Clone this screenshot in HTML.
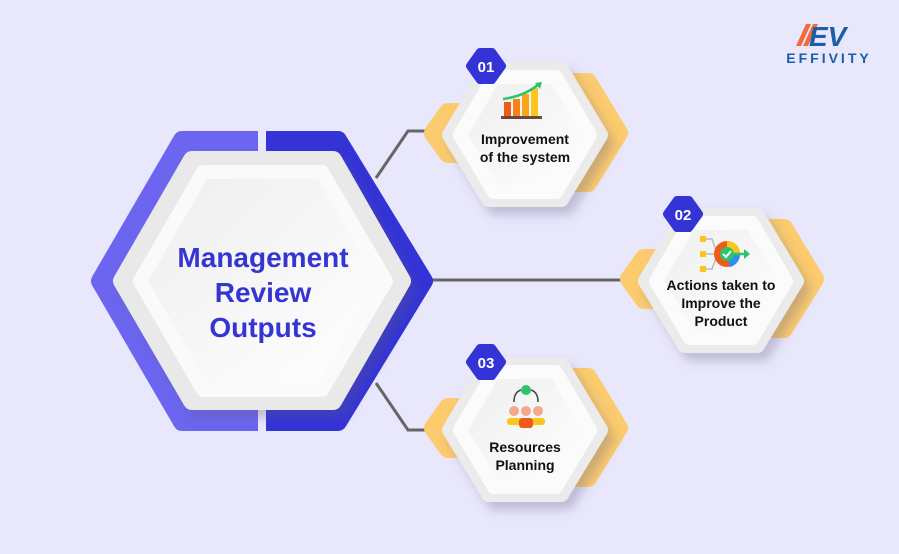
<!DOCTYPE html>
<html><head><meta charset="utf-8"><style>
html,body{margin:0;padding:0;background:#e9e7fb;}
svg{display:block;font-family:"Liberation Sans",sans-serif;}
</style></head><body>
<svg width="899" height="554" viewBox="0 0 899 554" xmlns="http://www.w3.org/2000/svg">
<defs>
<clipPath id="cl"><rect x="0" y="0" width="258" height="554"/></clipPath>
<clipPath id="cr"><rect x="266" y="0" width="300" height="554"/></clipPath>
<linearGradient id="wg" x1="0" y1="0" x2="1" y2="1"><stop offset="0" stop-color="#eeeeee"/><stop offset="1" stop-color="#ffffff"/></linearGradient>
<filter id="sh" x="-20%" y="-20%" width="150%" height="150%"><feDropShadow dx="6" dy="8" stdDeviation="5" flood-color="#5a5a80" flood-opacity="0.3"/></filter>
</defs>
<rect width="899" height="554" fill="#e9e7fb"/>

<g fill="none" stroke="#666" stroke-width="3">
<polyline points="376,178 408,131 440,131"/>
<line x1="430" y1="280" x2="632" y2="280"/>
<polyline points="376,383 408,430 440,430"/>
</g>

<g stroke-linejoin="round" stroke-width="18">
<polygon clip-path="url(#cl)" points="100,281 182,140 338,140 424,281 338,422 182,422" fill="#6b65ef" stroke="#6b65ef"/>
<polygon clip-path="url(#cr)" points="100,281 182,140 338,140 424,281 338,422 182,422" fill="#3333d6" stroke="#3333d6"/>
<polygon filter="url(#sh)" points="122,281 192,160 333,160 402,281 333,401 192,401" fill="#e9e9e9" stroke="#e9e9e9"/>
<polygon points="140,281 203,172 322,172 386,281 322,390 203,390" fill="url(#wg)" stroke="#fafafa" stroke-width="14"/>
</g>
<g fill="#3535d4" font-weight="bold" font-size="28" text-anchor="middle">
<text x="263" y="267">Management</text>
<text x="263" y="302">Review</text>
<text x="263" y="337">Outputs</text>
</g>

<g id="h1">
<g stroke-linejoin="round" stroke-width="18" fill="#fccb6e" stroke="#fccb6e">
<polygon points="433,133 448,112 476,112 476,154 448,154"/>
<polygon points="560,82 588,82 619,133 588,183 560,183"/>
</g>
<g stroke-linejoin="round" stroke-width="16">
<polygon filter="url(#sh)" points="450,135 489,70 561,70 600,135 561,199 489,199" fill="#ebebeb" stroke="#ebebeb"/>
<polygon points="460,135 494,77 556,77 590,135 556,192 494,192" fill="url(#wg)" stroke="#fbfbfb" stroke-width="14"/>
</g>
</g>
<g stroke-linejoin="round" stroke-width="8" fill="#3333d6" stroke="#3333d6">
<polygon points="470,66 480,52 492,52 502,66 492,80 480,80"/>
</g>
<text x="486" y="72" fill="#fff" font-weight="bold" font-size="15" text-anchor="middle">01</text>
<g>
<rect x="504" y="102" width="7" height="14" fill="#f05a1a"/>
<rect x="513" y="99" width="7" height="17" fill="#f7821a"/>
<rect x="522" y="94" width="7" height="22" fill="#f9a51a"/>
<rect x="531" y="88" width="7" height="28" fill="#fcc51a"/>
<rect x="501" y="116" width="41" height="3" fill="#6b4a3a"/>
<path d="M503,99 Q525,96 539,84" fill="none" stroke="#2cc36b" stroke-width="2.5"/>
<polygon points="535,83 542,82 540,89" fill="#2cc36b"/>
</g>
<g fill="#111" font-weight="bold" font-size="14" text-anchor="middle">
<text x="525" y="144">Improvement</text>
<text x="525" y="162">of the system</text>
</g>

<use href="#h1" transform="translate(196,146)"/>
<g stroke-linejoin="round" stroke-width="8" fill="#3333d6" stroke="#3333d6">
<polygon points="667,214 677,200 689,200 699,214 689,228 677,228"/>
</g>
<text x="683" y="220" fill="#fff" font-weight="bold" font-size="15" text-anchor="middle">02</text>
<g>
<rect x="700" y="236" width="6" height="6" fill="#fcc51a"/>
<rect x="700" y="251" width="6" height="6" fill="#fcc51a"/>
<rect x="700" y="266" width="6" height="6" fill="#fcc51a"/>
<path d="M706,239 H712 L716,250 M706,254 H716 M706,269 H712 L716,258" fill="none" stroke="#bbb" stroke-width="1.5"/>
<circle cx="727" cy="254" r="13" fill="#f05a1a"/>
<path d="M727,241 A13,13 0 0 1 740,254 L727,254Z" fill="#fcc51a"/>
<path d="M740,254 A13,13 0 0 1 730,267 L727,254Z" fill="#2b8ff0"/>
<circle cx="727" cy="254" r="7" fill="#2cc36b"/>
<path d="M723,254 l3,3 l5,-6" fill="none" stroke="#fff" stroke-width="2"/>
<path d="M734,254 H745" stroke="#2cc36b" stroke-width="2.5"/>
<polygon points="744,249 750,254 744,259" fill="#2cc36b"/>
</g>
<g fill="#111" font-weight="bold" font-size="14" text-anchor="middle">
<text x="721" y="290">Actions taken to</text>
<text x="721" y="308">Improve the</text>
<text x="721" y="326">Product</text>
</g>

<use href="#h1" transform="translate(0,295)"/>
<g stroke-linejoin="round" stroke-width="8" fill="#3333d6" stroke="#3333d6">
<polygon points="470,362 480,348 492,348 502,362 492,376 480,376"/>
</g>
<text x="486" y="368" fill="#fff" font-weight="bold" font-size="15" text-anchor="middle">03</text>
<g>
<circle cx="526" cy="390" r="5" fill="#2cc36b"/>
<path d="M514,402 Q514,392 521,390 M538,402 Q538,392 531,390" fill="none" stroke="#444" stroke-width="1.5"/>
<circle cx="514" cy="411" r="5" fill="#f3a98a"/>
<circle cx="526" cy="411" r="5" fill="#f3a98a"/>
<circle cx="538" cy="411" r="5" fill="#f3a98a"/>
<rect x="507" y="418" width="14" height="7" rx="3" fill="#fcc51a"/>
<rect x="531" y="418" width="14" height="7" rx="3" fill="#fcc51a"/>
<rect x="519" y="418" width="14" height="10" rx="3" fill="#f05a1a"/>
</g>
<g fill="#111" font-weight="bold" font-size="14" text-anchor="middle">
<text x="525" y="452">Resources</text>
<text x="525" y="470">Planning</text>
</g>

<g>
<polygon points="796,46 806,24 811,24 801,46" fill="#f26b3a"/>
<polygon points="803,46 813,24 818,24 808,46" fill="#f26b3a"/>
<text x="809" y="46" fill="#1c5ea8" font-weight="bold" font-style="italic" font-size="28">EV</text>
<path d="M836,46 L864,18 L842,40Z" fill="#1c5ea8"/>
<text x="829" y="63" fill="#1c5ea8" font-weight="bold" font-size="14" letter-spacing="3" text-anchor="middle">EFFIVITY</text>
</g>
</svg>
</body></html>
